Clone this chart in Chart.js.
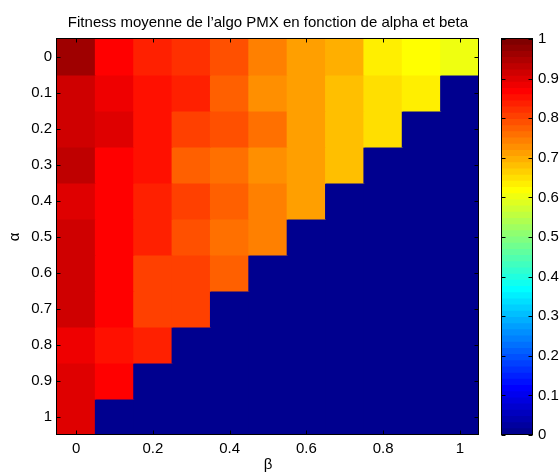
<!DOCTYPE html>
<html>
<head>
<meta charset="utf-8">
<script src="https://cdn.jsdelivr.net/npm/chart.js@4.4.0/dist/chart.umd.min.js"></script>
<style>
  html, body { margin: 0; padding: 0; background: #fff; }
  #wrap { position: relative; width: 559px; height: 474px; }
  #heatmap { position: absolute; left: 0; top: 0; }
  #colorbar { position: absolute; left: 490px; top: 0; }
</style>
</head>
<body>
<div id="wrap">
  <canvas id="heatmap" width="559" height="474"></canvas>
  <canvas id="colorbar" width="69" height="474"></canvas>
</div>
<script>
const alphaValues = [0, 0.1, 0.2, 0.3, 0.4, 0.5, 0.6, 0.7, 0.8, 0.9, 1];
const betaValues = [0, 0.1, 0.2, 0.3, 0.4, 0.5, 0.6, 0.7, 0.8, 0.9, 1];
const alphaLabels = ['0', '0.1', '0.2', '0.3', '0.4', '0.5', '0.6', '0.7', '0.8', '0.9', '1'];
const betaLabels = ['0', '0.1', '0.2', '0.3', '0.4', '0.5', '0.6', '0.7', '0.8', '0.9', '1'];
const colorbarTicks = [0, 0.1, 0.2, 0.3, 0.4, 0.5, 0.6, 0.7, 0.8, 0.9, 1];

// mean fitness, one row per alpha, one column per beta (0 where alpha + beta > 1)
const fitnessA00 = [0.96, 0.865, 0.835, 0.82, 0.79, 0.745, 0.71, 0.695, 0.63, 0.615, 0.60];
const fitnessA01 = [0.915, 0.885, 0.85, 0.835, 0.77, 0.725, 0.71, 0.68, 0.65, 0.635, 0];
const fitnessA02 = [0.915, 0.90, 0.85, 0.805, 0.79, 0.755, 0.71, 0.68, 0.65, 0, 0];
const fitnessA03 = [0.93, 0.87, 0.85, 0.775, 0.76, 0.725, 0.71, 0.68, 0, 0, 0];
const fitnessA04 = [0.90, 0.865, 0.835, 0.80, 0.77, 0.745, 0.71, 0, 0, 0, 0];
const fitnessA05 = [0.91, 0.865, 0.835, 0.785, 0.755, 0.74, 0, 0, 0, 0, 0];
const fitnessA06 = [0.915, 0.865, 0.80, 0.805, 0.77, 0, 0, 0, 0, 0, 0];
const fitnessA07 = [0.91, 0.87, 0.80, 0.81, 0, 0, 0, 0, 0, 0, 0];
const fitnessA08 = [0.88, 0.855, 0.84, 0, 0, 0, 0, 0, 0, 0, 0];
const fitnessA09 = [0.895, 0.87, 0, 0, 0, 0, 0, 0, 0, 0, 0];
const fitnessA10 = [0.90, 0, 0, 0, 0, 0, 0, 0, 0, 0, 0];

const fitness = [fitnessA00, fitnessA01, fitnessA02, fitnessA03, fitnessA04, fitnessA05,
                 fitnessA06, fitnessA07, fitnessA08, fitnessA09, fitnessA10];

const TITLE = 'Fitness moyenne de l\u2019algo PMX en fonction de alpha et beta';
const FONT = { family: "'Liberation Sans', Arial, sans-serif", size: 15, weight: 'normal' };
const TICK_LEN = 4;

// MATLAB-style jet colormap with m levels
function jetColormap(m) {
    const n = Math.ceil(m / 4);
    const u = [];
    for (let i = 1; i <= n; i++) u.push(i / n);
    for (let i = 1; i < n; i++) u.push(1);
    for (let i = n; i >= 1; i--) u.push(i / n);
    const shift = Math.ceil(n / 2) - (m % 4 === 1 ? 1 : 0);
    const map = Array.from({ length: m }, () => [0, 0, 0]);
    u.forEach((val, i) => {
        const g = shift + i + 1;
        [g + n, g, g - n].forEach((idx, ch) => {
            if (idx >= 1 && idx <= m) map[idx - 1][ch] = val;
        });
    });
    return map.map(c => `rgb(${Math.round(c[0] * 255)},${Math.round(c[1] * 255)},${Math.round(c[2] * 255)})`);
}

const jet = jetColormap(64);

function colorFor(v) {
    return jet[Math.min(63, Math.max(0, Math.floor(v * 64)))];
}

function tickText(v) {
    return String(Math.round(v * 10) / 10);
}

// black box round the plot area with short inward tick marks
function frameWithTicks(xTicks, yTicks) {
    return {
        id: 'frameWithTicks',
        afterDraw(chart) {
            const { ctx, chartArea: a } = chart;
            const l = Math.round(a.left) - 0.5, r = Math.round(a.right) - 0.5;
            const t = Math.round(a.top) - 0.5, b = Math.round(a.bottom) - 0.5;
            ctx.save();
            ctx.strokeStyle = '#000';
            ctx.lineWidth = 1;
            ctx.beginPath();
            xTicks(chart).forEach(px => {
                const x = Math.round(px) + 0.5;
                ctx.moveTo(x, b); ctx.lineTo(x, b - TICK_LEN);
                ctx.moveTo(x, t); ctx.lineTo(x, t + TICK_LEN);
            });
            yTicks(chart).forEach(py => {
                const y = Math.round(py) + 0.5;
                ctx.moveTo(l, y); ctx.lineTo(l + TICK_LEN, y);
                ctx.moveTo(r, y); ctx.lineTo(r - TICK_LEN, y);
            });
            ctx.stroke();
            ctx.strokeRect(l, t, r - l, b - t);
            ctx.restore();
        }
    };
}

// title centred over the plot area
const plotTitle = {
    id: 'plotTitle',
    afterDraw(chart) {
        const { ctx, chartArea: a } = chart;
        ctx.save();
        ctx.fillStyle = '#000';
        ctx.font = `${FONT.size}px ${FONT.family}`;
        ctx.textAlign = 'center';
        ctx.textBaseline = 'alphabetic';
        ctx.fillText(TITLE, (a.left + a.right) / 2, 27);
        ctx.restore();
    }
};

function renderHeatmap() {
    const ctx = document.getElementById('heatmap').getContext('2d');

    const datasets = alphaValues.map((a, i) => ({
        label: 'alpha ' + alphaLabels[i],
        data: betaValues.map(() => [a - 0.05, a + 0.05]),
        backgroundColor: fitness[i].map(colorFor),
        borderWidth: 0,
        inflateAmount: 0.5,
        barPercentage: 1,
        categoryPercentage: 1,
        grouped: false
    }));

    const frame = frameWithTicks(
        chart => {
            const s = chart.scales.x;
            return betaLabels.map((_, i) => i).filter(i => i % 2 === 0).map(i => s.getPixelForValue(i));
        },
        chart => alphaValues.map(a => chart.scales.y.getPixelForValue(a))
    );

    new Chart(ctx, {
        type: 'bar',
        data: { labels: betaLabels, datasets: datasets },
        plugins: [frame, plotTitle],
        options: {
            responsive: false,
            animation: false,
            layout: { padding: { left: 0, right: 80, top: 39, bottom: 0 } },
            plugins: {
                legend: { display: false },
                tooltip: { enabled: false },
                title: { display: false }
            },
            scales: {
                x: {
                    type: 'category',
                    offset: true,
                    grid: { display: false, drawTicks: false },
                    border: { display: false },
                    ticks: {
                        autoSkip: false,
                        maxRotation: 0,
                        padding: 5,
                        color: '#000',
                        font: FONT,
                        callback: (v, i) => (i % 2 === 0 ? betaLabels[i] : '')
                    },
                    title: { display: true, text: '\u03b2', color: '#000', font: FONT, padding: { top: 0, bottom: 0 } },
                    afterFit: s => { s.height = 39; }
                },
                y: {
                    type: 'linear',
                    reverse: true,
                    min: -0.05,
                    max: 1.05,
                    grid: { display: false, drawTicks: false },
                    border: { display: false },
                    afterBuildTicks: s => { s.ticks = alphaValues.map(v => ({ value: v })); },
                    ticks: {
                        autoSkip: false,
                        padding: 5,
                        color: '#000',
                        font: FONT,
                        callback: v => tickText(v)
                    },
                    title: { display: true, text: '\u03b1', color: '#000', font: FONT, padding: { top: 6, bottom: 0 } },
                    afterFit: s => { s.width = 57; }
                }
            }
        }
    });
}

function renderColorbar() {
    const ctx = document.getElementById('colorbar').getContext('2d');

    // one floating bar per colormap level, stacked from 0 up to 1
    const datasets = jet.map((c, k) => ({
        data: [[k / jet.length, (k + 1) / jet.length]],
        backgroundColor: c,
        borderWidth: 0,
        inflateAmount: 0.5,
        barPercentage: 1,
        categoryPercentage: 1,
        grouped: false
    }));

    const frame = frameWithTicks(
        () => [],
        chart => colorbarTicks.map(v => chart.scales.y.getPixelForValue(v))
    );

    new Chart(ctx, {
        type: 'bar',
        data: { labels: [''], datasets: datasets },
        plugins: [frame],
        options: {
            responsive: false,
            animation: false,
            layout: { padding: { left: 12, right: 0, top: 39, bottom: 39 } },
            plugins: {
                legend: { display: false },
                tooltip: { enabled: false },
                title: { display: false }
            },
            scales: {
                x: { display: false, offset: true },
                y: {
                    type: 'linear',
                    position: 'right',
                    min: 0,
                    max: 1,
                    grid: { display: false, drawTicks: false },
                    border: { display: false },
                    afterBuildTicks: s => { s.ticks = colorbarTicks.map(v => ({ value: v })); },
                    ticks: {
                        autoSkip: false,
                        padding: 5,
                        color: '#000',
                        font: FONT,
                        callback: v => tickText(v)
                    },
                    afterFit: s => { s.width = 26; }
                }
            }
        }
    });
}

renderHeatmap();
renderColorbar();
</script>
</body>
</html>
